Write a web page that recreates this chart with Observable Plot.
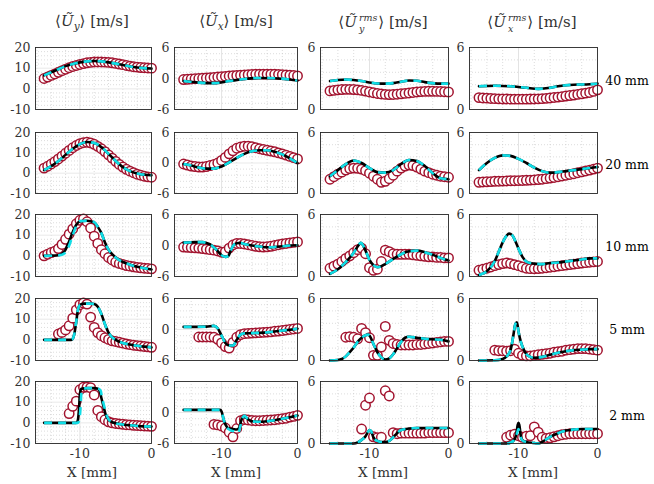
<!DOCTYPE html>
<html><head><meta charset="utf-8">
<script src="https://cdn.jsdelivr.net/npm/d3@7"></script>
<script src="https://cdn.jsdelivr.net/npm/@observablehq/plot@0.6"></script>
<style>
body{margin:0;background:#fff;}
#wrap{position:relative;width:654px;height:484px;font-family:"DejaVu Serif","Liberation Serif",serif;color:#262626;overflow:hidden;}
.panel{position:absolute;}
.panel svg{overflow:visible;}
.lbl{position:absolute;white-space:nowrap;transform:translate(-50%,-50%);line-height:1;}
.title{font-size:15px;color:#333;}
.row{font-size:12.5px;color:#000;}
.xl{font-size:13.5px;color:#333;}
.sub{font-size:10.5px;vertical-align:-4px;}
.st{display:inline-block;font-size:9.5px;line-height:11px;vertical-align:-5px;margin:0 1px 0 2px;text-align:left;}
</style>
</head><body><div id="wrap"></div>
<script>
// ---------- data ----------
const X = [-15,-14.5,-14,-13.5,-13,-12.5,-12,-11.5,-11,-10.5,-10,-9.5,-9,-8.5,-8,-7.5,-7,-6.5,-6,-5.5,-5,-4.5,-4,-3.5,-3,-2.5,-2,-1.5,-1,-0.5,0];
const n = null;

const rowLabels = ["40 mm","20 mm","10 mm","5 mm","2 mm"];
const colTitles = [
  '⟨<i>Ũ</i><span class="sub"><i>y</i></span>⟩ [m/s]',
  '⟨<i>Ũ</i><span class="sub"><i>x</i></span>⟩ [m/s]',
  '⟨<i>Ũ</i><span class="st"><i>rms</i><br><i>y</i></span>⟩ [m/s]',
  '⟨<i>Ũ</i><span class="st"><i>rms</i><br><i>x</i></span>⟩ [m/s]'
];
const xLabel = "X [mm]";
const xTickLabels = [-10, 0];
const yTicksUy = [-10, 0, 10, 20];
const yTicksUx = [-6, 0, 6];
const yTicksRms = [0, 6];
const xMajor = [-10];
const xMinor = [-16, -14, -12, -8, -6, -4, -2];

// experiment (circles), one value per X
const expUy40 = [5.0,5.7,6.5,7.2,8.0,8.8,9.5,10.2,10.8,11.3,11.8,12.2,12.6,12.8,13.0,13.0,13.0,12.9,12.8,12.6,12.3,12.0,11.7,11.3,11.0,10.7,10.5,10.3,10.2,10.1,10.0];
const expUx40 = [-0.2,-0.15,-0.1,-0.05,0.0,0.05,0.1,0.15,0.22,0.28,0.35,0.42,0.48,0.55,0.6,0.65,0.7,0.75,0.8,0.82,0.84,0.85,0.85,0.84,0.82,0.8,0.75,0.7,0.65,0.58,0.5];
const expUyr40 = [1.8,1.85,1.9,1.93,1.95,1.95,1.93,1.9,1.85,1.78,1.7,1.62,1.55,1.5,1.46,1.44,1.45,1.48,1.52,1.56,1.6,1.65,1.7,1.73,1.75,1.76,1.76,1.75,1.74,1.72,1.7];
const expUxr40 = [1.15,1.12,1.1,1.07,1.05,1.03,1.02,1.01,1.0,1.0,1.0,1.0,1.0,1.01,1.02,1.03,1.05,1.08,1.12,1.16,1.2,1.25,1.3,1.35,1.4,1.46,1.52,1.58,1.65,1.75,1.9];

const expUy20 = [2.5,3.4,4.5,5.7,7.0,8.4,9.8,11.2,12.5,13.6,14.5,15.0,15.2,14.9,14.2,13.2,12.0,10.6,9.0,7.4,5.8,4.3,3.0,1.9,1.0,0.2,-0.5,-1.0,-1.5,-1.8,-2.0];
const expUx20 = [-0.2,-0.4,-0.6,-0.7,-0.8,-0.8,-0.7,-0.5,-0.3,0.0,0.5,1.1,1.8,2.4,2.9,3.15,3.3,3.3,3.2,3.0,2.8,2.65,2.5,2.35,2.2,2.0,1.8,1.55,1.3,1.05,0.8];
const expUyr20 = [1.4,1.65,1.9,2.1,2.3,2.45,2.5,2.48,2.4,2.25,2.0,1.7,1.4,1.1,1.2,1.45,1.8,2.2,2.5,2.7,2.8,2.75,2.6,2.4,2.2,2.05,1.9,1.8,1.7,1.65,1.6];
const expUxr20 = [1.1,1.13,1.15,1.17,1.2,1.21,1.22,1.23,1.25,1.26,1.27,1.28,1.3,1.32,1.34,1.37,1.4,1.46,1.52,1.58,1.65,1.72,1.8,1.87,1.95,2.04,2.13,2.22,2.3,2.4,2.5];

const expUy10 = [0,0.8,1.6,2.3,3.5,5.5,8,10.5,13,15.5,17.2,17.8,16.5,13.5,9.5,6,3,1,-0.8,-2,-3,-3.7,-4.2,-4.7,-5,-5.3,-5.6,-5.8,-6,-6.1,-6.3];
const expUx10 = [-0.3,-0.35,-0.4,-0.45,-0.5,-0.6,-0.7,-0.8,-0.9,-1.05,-1.3,-1.2,-0.5,0.1,0.4,0.4,0.3,0.15,0.0,-0.15,-0.25,-0.3,-0.25,-0.15,0.0,0.15,0.3,0.4,0.5,0.6,0.7];
const expUyr10 = [0.8,1.0,1.2,1.45,1.75,2.0,2.3,2.6,2.75,2.2,0.85,0.6,0.7,1.45,2.55,2.4,2.2,2.15,2.15,2.15,2.15,2.1,2.05,2.0,1.95,1.9,1.9,1.85,1.85,1.8,1.8];
const expUxr10 = [0.6,0.7,0.8,0.92,1.05,1.15,1.25,1.3,1.25,1.15,1.05,0.92,0.8,0.76,0.75,0.77,0.8,0.85,0.9,0.95,1.0,1.05,1.1,1.15,1.2,1.25,1.3,1.34,1.38,1.42,1.45];

const expUy5 = [n,n,n,n,2.8,3.6,4.8,6.8,10.5,14.5,17.0,17.8,17.3,11,6,3.5,2,1,0.2,-0.5,-0.8,-1.2,-1.6,-2,-2.3,-2.6,-2.8,-3,-3.2,-3.4,-3.6];
const expUx5 = [n,n,n,n,-1.45,-1.45,-1.45,-1.45,-1.5,-1.9,-2.6,-3.3,-3.6,-2.5,-1.5,-1.0,-0.8,-0.75,-0.7,-0.65,-0.6,-0.55,-0.5,-0.45,-0.35,-0.3,-0.2,-0.1,0.0,0.1,0.2];
const expUyr5 = [n,n,n,n,2.25,2.3,2.25,2.1,3.1,2.7,2.2,0.5,0.5,1.3,3.3,1.95,1.65,1.55,1.5,1.5,1.5,1.5,1.55,1.55,1.6,1.65,1.7,1.75,1.8,1.85,1.85];
const expUxr5 = [n,n,n,n,1.0,0.95,0.95,0.9,0.95,1.1,0.7,0.5,0.45,0.45,0.5,0.55,0.6,0.65,0.7,0.8,0.85,0.9,1.0,1.05,1.1,1.15,1.15,1.15,1.1,1.05,1.0];

const expUy2 = [n,n,n,n,n,n,n,4.5,8,10.5,16,17.2,17.3,17,13.5,6,3,1.5,0.5,0,-0.3,-0.5,-0.7,-0.9,-1.0,-1.2,-1.3,-1.4,-1.5,-1.6,-1.7];
const expUx2 = [n,n,n,n,n,n,n,n,-2.3,-2.4,-2.6,-3.0,-3.8,-4.7,-3.1,-1.6,-1.35,-1.45,-1.55,-1.6,-1.6,-1.55,-1.5,-1.45,-1.4,-1.3,-1.2,-1.1,-0.9,-0.75,-0.55];
const expUyr2 = [n,n,n,n,n,n,n,n,1.4,3.7,4.4,0.65,0.55,0.6,5.1,4.6,1.05,0.95,1.0,1.0,1.0,1.0,1.0,1.0,1.0,1.05,1.05,1.05,1.05,1.05,1.05];
const expUxr2 = [n,n,n,n,n,n,n,0.6,0.8,0.9,0.75,0.6,0.7,0.75,1.6,1.1,0.6,0.5,0.55,0.65,0.75,0.85,0.9,0.95,0.95,0.95,0.95,0.95,0.95,0.95,0.95];

// simulations ([X, value]); black line, cyan dashed line where it differs
const simUy40 = [[-15,6.5],[-14,8],[-13,9.5],[-12,11],[-11,12],[-10,12.8],[-9,13.3],[-8,13.5],[-7,13.3],[-6,12.8],[-5,12.2],[-4,11.5],[-3,10.8],[-2,10.3],[-1,10],[0,9.8]];
const simUx40 = [[-15,-0.5],[-13,-0.8],[-11,-0.9],[-9,-0.5],[-7,-0.1],[-5,0.1],[-3,0.05],[-1,-0.2],[0,-0.4]];
const simUyr40 = [[-15,2.75],[-14,2.85],[-13,2.9],[-12,2.85],[-11,2.75],[-10,2.62],[-9,2.52],[-8,2.5],[-7,2.55],[-6,2.68],[-5,2.8],[-4,2.78],[-3,2.65],[-2,2.55],[-1,2.5],[0,2.5]];
const simUxr40 = [[-15,2.25],[-13,2.3],[-11,2.25],[-9,2.1],[-7.5,2.0],[-6,2.1],[-5,2.25],[-4,2.35],[-3,2.4],[-2,2.42],[-1,2.45],[0,2.5]];

const simUy20 = [[-15,1.5],[-14,3.5],[-13,6],[-12,9],[-11,12],[-10,14.3],[-9,15.3],[-8,14.8],[-7,12.8],[-6,9.5],[-5,6],[-4,3],[-3,1],[-2,-0.2],[-1,-0.8],[0,-1.0]];
const simUx20 = [[-15,-0.2],[-14,-0.5],[-13,-0.9],[-12,-1.1],[-11,-1.1],[-10,-0.7],[-9,0.1],[-8,1.0],[-7,1.8],[-6,2.3],[-5,2.5],[-4,2.5],[-3,2.2],[-2,1.7],[-1,0.9],[0,0.0]];
const simUyr20 = [[-15,1.7],[-14,2.3],[-13,2.9],[-12,3.25],[-11,3.0],[-10,2.5],[-9,2.1],[-8,2.05],[-7,2.3],[-6,2.9],[-5,3.3],[-4,3.2],[-3,2.7],[-2,2.0],[-1,1.5],[0,1.4]];
const simUxr20 = [[-15,2.3],[-14,3.0],[-13,3.5],[-12,3.75],[-11,3.7],[-10,3.4],[-9,3.0],[-8,2.55],[-7,2.2],[-6,2.05],[-5,2.1],[-4,2.2],[-3,2.3],[-2,2.4],[-1,2.5],[0,2.6]];

const simUy10 = [[-15,0],[-13,0.3],[-12.5,1],[-12,3],[-11.5,7],[-11,11.5],[-10.5,15],[-10,16.7],[-9,17],[-8,16.2],[-7.5,14],[-7,11],[-6.5,6.5],[-6,3],[-5.5,0.8],[-5,-0.8],[-4,-3],[-3,-4.3],[-2,-5.3],[-1,-6],[0,-6.6]];
const cyanUy10 = [[-15,0],[-13,0.2],[-12,1.5],[-11.5,5],[-11,10],[-10.5,14.5],[-10,16.8],[-9,17],[-8,16.3],[-7.5,14],[-7,11],[-6.5,6.5],[-6,3],[-5,-0.8],[-4,-3],[-3,-4.3],[-2,-5.3],[-1,-6],[0,-6.6]];
const simUx10 = [[-15,0.55],[-13.5,0.65],[-12.5,0.65],[-12,0.5],[-11.5,0.2],[-11,-0.4],[-10.5,-1.1],[-10,-1.9],[-9.5,-2.2],[-9.1,-2.0],[-8.8,-1.0],[-8.5,-0.1],[-8,0.45],[-7.5,0.5],[-7,0.3],[-6,0.0],[-5,-0.2],[-4,-0.35],[-3,-0.3],[-2,-0.15],[-1,0.0],[0,0.05]];
const simUyr10 = [[-15,0.25],[-14,0.7],[-13,1.4],[-12,2.3],[-11.5,2.9],[-11.1,3.25],[-10.5,2.5],[-10,1.6],[-9.5,1.1],[-9,0.9],[-8.5,1.0],[-8,1.2],[-7,1.7],[-6,2.15],[-5,2.45],[-4,2.5],[-3,2.35],[-2,2.1],[-1,1.8],[0,1.55]];
const simUxr10 = [[-15,0.15],[-14,0.5],[-13,1.5],[-12.5,2.4],[-12,3.3],[-11.5,3.95],[-11.2,4.15],[-10.8,4.0],[-10.5,3.6],[-10,2.7],[-9.5,1.9],[-9,1.45],[-8.5,1.3],[-8,1.25],[-7,1.2],[-6,1.3],[-5,1.35],[-4,1.45],[-3,1.55],[-2,1.65],[-1,1.75],[0,1.75]];

const simUy5 = [[-15,0],[-11.2,0],[-11,0.5],[-10.8,2.5],[-10.5,9],[-10.3,14],[-10,16.8],[-9.5,17.5],[-8.5,17.5],[-8,17.3],[-7.5,16],[-7,12.5],[-6.5,7.5],[-6,3.5],[-5.5,1.2],[-5,0],[-4,-1.5],[-3,-2.3],[-2,-2.9],[-1,-3.3],[0,-3.6]];
const simUx5 = [[-15,0.5],[-12,0.55],[-11,0.7],[-10.5,0.2],[-10,-1.2],[-9.5,-2.6],[-9,-3.1],[-8.5,-3.1],[-8,-2.0],[-7.5,-1.0],[-7,-0.75],[-6,-0.7],[-5,-0.65],[-4,-0.55],[-3,-0.4],[-2,-0.2],[-1,-0.05],[0,0.15]];
const simUyr5 = [[-15,0],[-14,0.05],[-13.5,0.15],[-13,0.4],[-12.5,0.8],[-12,1.25],[-11.5,1.8],[-11,2.2],[-10.5,2.45],[-10.2,2.5],[-10,2.4],[-9.5,1.6],[-9,0.8],[-8.5,0.3],[-8,0.1],[-7.5,0.2],[-7,0.6],[-6.5,1.2],[-6,1.8],[-5.5,2.2],[-5,2.3],[-4,2.2],[-3,2.1],[-2,2.05],[-1,2.0],[0,1.85]];
const simUxr5 = [[-15,0],[-13,0.02],[-12,0.15],[-11.5,0.4],[-11,1.0],[-10.7,2.2],[-10.4,3.5],[-10.2,3.7],[-10,2.8],[-9.7,1.8],[-9.3,1.0],[-9,0.6],[-8.5,0.35],[-8,0.25],[-7,0.35],[-6,0.55],[-5,0.75],[-4,0.9],[-3,1.0],[-2,1.05],[-1,1.1],[0,1.1]];

const simUy2 = [[-15,0],[-10.5,0],[-10.3,1],[-10.1,8],[-10,14],[-9.8,16.5],[-9,16.8],[-8,16.8],[-7.5,16.5],[-7.2,15],[-7,12],[-6.7,8],[-6.4,4],[-6,1.5],[-5.5,0.3],[-5,-0.2],[-4,-0.8],[-3,-1.2],[-2,-1.5],[-1,-1.7],[0,-1.8]];
const cyanUy2 = [[-15,0],[-10.3,0],[-10.1,1],[-9.9,8],[-9.8,14],[-9.6,16.5],[-9,16.8],[-8,16.8],[-7.5,16.6],[-7.1,15.5],[-6.9,12],[-6.6,8],[-6.3,4],[-6,1.8],[-5.5,0.4],[-5,-0.2],[-4,-0.8],[-3,-1.2],[-2,-1.5],[-1,-1.7],[0,-1.8]];
const simUx2 = [[-15,0.5],[-10.2,0.5],[-10,0.2],[-9.7,-1.5],[-9.3,-2.8],[-9,-3.1],[-8.5,-3.2],[-8,-3.3],[-7.7,-3.0],[-7.4,-1.5],[-7.1,-0.8],[-6.8,-1.0],[-6.3,-1.5],[-6,-1.7],[-5,-1.8],[-4,-1.7],[-3,-1.5],[-2,-1.2],[-1,-0.9],[0,-0.6]];
const cyanUx2 = [[-15,0.5],[-10.2,0.5],[-10,0.2],[-9.7,-1.5],[-9.3,-2.9],[-9,-3.3],[-8.5,-3.6],[-8,-3.9],[-7.8,-4.0],[-7.5,-2.5],[-7.2,-1.0],[-7,-0.6],[-6.6,-1.2],[-6,-1.7],[-5,-1.8],[-4,-1.7],[-3,-1.5],[-2,-1.2],[-1,-0.9],[0,-0.6]];
const simUyr2 = [[-15,0],[-12,0],[-11.5,0.1],[-11,0.35],[-10.5,0.7],[-10.2,1.1],[-10,1.3],[-9.8,1.2],[-9.5,0.6],[-9,0.25],[-8.5,0.15],[-8,0.15],[-7.5,0.25],[-7,0.6],[-6.5,1.0],[-6,1.3],[-5,1.45],[-4,1.5],[-3,1.5],[-2,1.5],[-1,1.5],[0,1.5]];
const simUxr2 = [[-15,0],[-11.5,0],[-11,0.1],[-10.6,0.3],[-10.3,0.8],[-10.1,1.8],[-10,2.0],[-9.9,1.8],[-9.7,0.7],[-9.5,0.3],[-9,0.15],[-8,0.05],[-7.5,0.0],[-7,0.15],[-6.5,0.4],[-6,0.65],[-5,1.0],[-4,1.25],[-3,1.35],[-2,1.4],[-1,1.4],[0,1.4]];
const cyanUxr2 = [[-15,0],[-11.5,0],[-11,0.1],[-10.6,0.3],[-10.3,0.7],[-10.1,1.2],[-10,1.4],[-9.9,1.2],[-9.7,0.6],[-9.5,0.3],[-9,0.15],[-8,0.05],[-7.5,0.0],[-7,0.15],[-6.5,0.4],[-6,0.65],[-5,1.0],[-4,1.25],[-3,1.35],[-2,1.4],[-1,1.4],[0,1.4]];

// ---------- layout ----------
const FONT = '"DejaVu Serif","Liberation Serif",serif';
const X_DOMAIN = [-16.2, 0];
const COLS = [
  {left:35, w:116, domain:[-10,20], ticks:yTicksUy, minor:2, major:[0,10]},
  {left:174, w:123, domain:[-6,6], ticks:yTicksUx, minor:1.2, major:[0]},
  {left:320, w:128, domain:[0,6], ticks:yTicksRms, minor:1.2, major:[]},
  {left:469, w:128, domain:[0,6], ticks:yTicksRms, minor:1.2, major:[]}
];
const ROWS = [{top:47,h:62,ly:81},{top:132,h:61,ly:165},{top:214,h:62,ly:247},{top:298,h:62,ly:330},{top:381,h:62,ly:416}];

const panels = [
  [{exp:expUy40,sim:simUy40},{exp:expUx40,sim:simUx40},{exp:expUyr40,sim:simUyr40},{exp:expUxr40,sim:simUxr40}],
  [{exp:expUy20,sim:simUy20},{exp:expUx20,sim:simUx20},{exp:expUyr20,sim:simUyr20},{exp:expUxr20,sim:simUxr20}],
  [{exp:expUy10,sim:simUy10,sim2:cyanUy10},{exp:expUx10,sim:simUx10},{exp:expUyr10,sim:simUyr10},{exp:expUxr10,sim:simUxr10}],
  [{exp:expUy5,sim:simUy5},{exp:expUx5,sim:simUx5},{exp:expUyr5,sim:simUyr5},{exp:expUxr5,sim:simUxr5}],
  [{exp:expUy2,sim:simUy2,sim2:cyanUy2},{exp:expUx2,sim:simUx2,sim2:cyanUx2},{exp:expUyr2,sim:simUyr2},{exp:expUxr2,sim:simUxr2,sim2:cyanUxr2}]
];

const wrap = document.getElementById("wrap");
const ML = 40, MR = 14, MT = 10;
const fmt = d => (d < 0 ? "-" : "") + Math.abs(d);

ROWS.forEach((row, r) => {
  COLS.forEach((col, c) => {
    const p = panels[r][c];
    const bottom = r === ROWS.length - 1;
    const MB = bottom ? 30 : 10;
    const dots = X.map((x, i) => ({x, y: p.exp[i]})).filter(d => d.y != null);
    const yMinor = d3.range(col.domain[0] + col.minor, col.domain[1] - 1e-9, col.minor)
      .filter(v => !col.major.some(m => Math.abs(m - v) < 1e-6));
    const chart = Plot.plot({
      width: col.w + ML + MR,
      height: row.h + MT + MB,
      marginLeft: ML, marginRight: MR, marginTop: MT, marginBottom: MB,
      style: {fontFamily: FONT, fontSize: "12.5px", color: "#333", background: "transparent", overflow: "visible"},
      x: {domain: X_DOMAIN, axis: bottom ? "bottom" : null, ticks: xTickLabels, tickFormat: fmt, tickSize: 0, tickPadding: 6, label: null},
      y: {domain: col.domain, ticks: col.ticks, tickFormat: fmt, tickSize: 0, tickPadding: 5, label: null},
      marks: [
        Plot.ruleX(xMinor, {stroke: "#c4c4c4", strokeWidth: 0.6, strokeDasharray: "1,2"}),
        Plot.ruleY(yMinor, {stroke: "#c4c4c4", strokeWidth: 0.6, strokeDasharray: "1,2"}),
        Plot.ruleX(xMajor, {stroke: "#e0e0e0", strokeWidth: 0.9}),
        Plot.ruleY(col.major, {stroke: "#e6e6e6", strokeWidth: 0.9}),
        Plot.dot(dots, {x: "x", y: "y", r: 4.7, stroke: "#a2142f", strokeWidth: 1.5, fill: "white"}),
        Plot.line(p.sim, {x: d => d[0], y: d => d[1], stroke: "#000", strokeWidth: 2.6, curve: "monotone-x"}),
        Plot.line(p.sim2 || p.sim, {x: d => d[0], y: d => d[1], stroke: "#10dde6", strokeWidth: 2.6, strokeDasharray: "8,6", strokeLinecap: "butt", curve: "monotone-x"}),
        Plot.frame({stroke: "#262626", strokeWidth: 0.9})
      ]
    });
    chart.querySelectorAll("text").forEach(t => t.setAttribute("font-family", FONT));
    const div = document.createElement("div");
    div.className = "panel";
    div.style.left = (col.left - ML) + "px";
    div.style.top = (row.top - MT) + "px";
    div.appendChild(chart);
    wrap.appendChild(div);
  });
});

function addLabel(html, cls, x, y) {
  const d = document.createElement("div");
  d.className = "lbl " + cls;
  d.innerHTML = html;
  d.style.left = x + "px";
  d.style.top = y + "px";
  wrap.appendChild(d);
}
const titleX = [92, 236, 383, 532];
colTitles.forEach((t, i) => addLabel(t, "title", titleX[i], 23));
rowLabels.forEach((t, i) => addLabel(t, "row", 627, ROWS[i].ly));
[92, 236, 383, 533].forEach(x => addLabel(xLabel, "xl", x, 473));
</script>
</body></html>
